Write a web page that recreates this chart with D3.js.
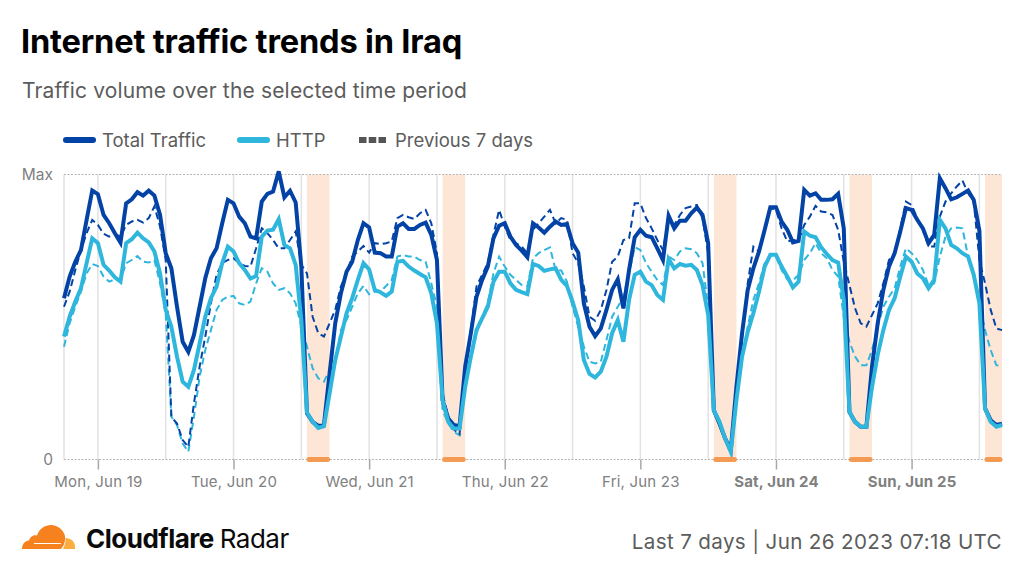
<!DOCTYPE html>
<html>
<head>
<meta charset="utf-8">
<title>Internet traffic trends in Iraq</title>
<script src="https://cdn.jsdelivr.net/npm/d3@7"></script>
<style>
  html, body { margin: 0; padding: 0; background: #fff; }
  svg { display: block; font-family: Inter, "Noto Sans", sans-serif; }
</style>
</head>
<body>
<div id="chart"></div>
<script>
// hourly samples, percent of the period's max, first sample is Jun 18 18:00
const startTime = "2023-06-18T18:00:00Z";
const endTime = "2023-06-25T16:00:00Z";

const totalTraffic = [
  56.6, 64.2, 69.4, 73.5, 84.1, 94.4, 93.1, 85.8, 82.9, 79.4, 76.1, 89.9, 91.3, 93.8, 92.6, 94.3, 92.6, 85.8, 72.4, 67.1,
  53.6, 41.3, 37.8, 43.7, 53.6, 63.6, 70.6, 74.1, 82.9, 91.1, 89.9, 85.2, 82.9, 78.2, 77.6, 90.5, 93.2, 94.0, 101.1, 92.0,
  94.3, 90.2, 67.7, 16.2, 13.2, 11.8, 12.1, 30.2, 47.8,
  58.3, 65.9, 69.4, 77.0, 82.9, 81.4, 72.6, 72.4, 71.2, 71.2, 81.7, 82.9, 80.9, 80.9, 82.3, 83.1, 78.8, 70.0, 20.8, 14.4,
  12.1, 11.7, 32.6, 44.3, 57.1, 63.0, 67.7, 77.6, 82.0, 82.9, 78.2, 75.3, 73.3, 71.0, 82.9, 81.4, 79.6, 81.7, 83.5, 82.3,
  82.6, 75.9, 72.6, 54.8, 46.6, 43.3, 46.0, 52.5, 59.5, 63.2, 53.0, 66.5, 78.0, 80.6, 78.5, 78.0, 74.1, 70.0, 85.5,
  81.1, 83.8, 83.8, 86.4, 88.4, 85.8, 75.9, 17.3, 12.6, 7.4, 3.3, 25.5, 44.3, 59.5, 67.1, 73.0, 80.6, 88.5, 88.5, 83.5,
  80.6, 76.2, 76.7, 94.6, 92.6, 93.4, 91.1, 91.1, 91.3, 93.2, 81.1, 16.7, 13.2, 11.5, 11.5, 32.6, 47.8, 59.5, 67.7, 72.4,
  80.0, 88.2, 87.6, 84.1, 81.1, 75.9, 78.8, 98.7, 95.2, 91.3, 92.0, 93.2, 94.4, 91.1, 80.3, 17.9, 13.8, 12.1, 12.6
];

const httpTraffic = [
  43.1, 50.1, 55.4, 60.1, 68.9, 77.6, 75.9, 68.3, 66.3, 63.9, 62.4, 75.9, 77.3, 79.6, 77.6, 76.2, 73.0, 65.3, 52.5, 46.6,
  36.1, 27.3, 25.5, 31.4, 40.7, 50.1, 56.6, 60.7, 68.9, 74.7, 73.0, 68.9, 66.5, 63.5, 64.4, 78.2, 80.3, 80.6, 84.3, 75.3,
  74.1, 68.3, 48.9, 16.5, 13.2, 11.1, 11.7, 23.2, 34.9,
  43.1, 51.3, 56.6, 63.0, 68.9, 66.7, 59.5, 58.7, 57.4, 58.9, 69.4, 69.7, 67.7, 66.3, 65.1, 63.9, 58.3, 47.8, 20.8, 13.2,
  10.9, 10.9, 25.5, 36.1, 45.4, 49.5, 53.6, 62.4, 65.9, 65.9, 61.8, 59.5, 58.7, 58.0, 68.6, 67.9, 66.2, 66.7, 67.1, 63.0,
  60.9, 55.4, 48.9, 34.9, 30.0, 28.8, 30.8, 36.1, 44.3, 48.9, 41.3, 56.0, 64.8, 65.9, 62.4, 61.2, 57.7, 56.0, 70.3,
  67.1, 68.6, 68.0, 68.3, 66.5, 61.2, 50.7, 17.3, 13.2, 7.4, 2.7, 20.8, 36.1, 44.8, 51.3, 58.9, 67.7, 71.8, 71.8, 67.7,
  64.2, 60.4, 62.4, 80.0, 78.5, 78.0, 74.5, 72.1, 70.0, 69.1, 56.0, 16.7, 13.2, 11.5, 11.5, 25.5, 36.7, 45.4, 52.5, 56.6,
  64.2, 71.2, 69.4, 65.3, 63.6, 60.1, 63.0, 84.1, 81.1, 75.3, 74.1, 72.4, 71.2, 64.8, 54.8, 17.9, 13.2, 11.5, 12.1
];

const prevTotal = [
  53.6, 58.9, 66.5, 73.5, 79.4, 84.1, 82.3, 79.2, 78.2, 79.2, 78.2, 82.3, 83.5, 84.1, 83.1, 84.7, 88.8, 81.7, 70.0, 15.0,
  12.6, 6.8, 4.4, 19.7, 32.6, 43.1, 54.8, 64.8, 68.9, 70.0, 70.6, 68.9, 67.9, 67.7, 74.1, 81.1, 79.4, 77.0, 74.1, 74.1,
  77.0, 80.0, 68.3, 65.3, 50.1, 44.3, 43.1, 47.8, 52.5,
  60.7, 65.3, 71.2, 73.0, 74.9, 72.6, 75.9, 75.6, 75.9, 76.5, 84.7, 85.8, 85.0, 84.4, 86.4, 87.6, 82.9, 72.4, 23.2, 15.0,
  10.5, 8.9, 29.0, 45.4, 60.7, 64.8, 68.9, 78.8, 87.6, 81.7, 77.0, 75.9, 74.7, 72.4, 80.6, 82.9, 85.2, 87.6, 82.9, 84.7,
  84.1, 72.4, 68.9, 60.7, 50.1, 48.7, 52.5, 59.5, 69.4, 71.2, 77.0, 77.6, 89.9, 89.9, 84.7, 81.1, 77.0, 73.5, 84.7,
  82.3, 85.8, 88.2, 88.8, 89.3, 84.7, 72.4, 17.3, 13.8, 6.8, 3.3, 24.4, 43.1, 61.8, 74.7, 73.0, 80.0, 88.2, 87.6, 81.1,
  76.5, 77.0, 77.0, 82.3, 85.2, 89.0, 87.0, 86.7, 85.8, 80.6, 69.4, 61.2, 53.0, 47.8, 46.6, 50.7, 54.8, 61.8, 70.0, 72.4,
  81.1, 90.5, 89.3, 84.7, 80.6, 74.7, 74.7, 85.2, 90.5, 93.4, 95.8, 97.9, 93.4, 90.5, 70.0, 61.8, 52.5, 46.0, 45.4
];

const prevHttp = [
  39.6, 47.8, 53.6, 58.9, 65.3, 68.6, 67.9, 64.2, 62.4, 63.2, 63.0, 68.9, 70.0, 71.4, 69.4, 69.1, 70.0, 61.8, 51.3, 15.0,
  12.1, 5.6, 2.7, 15.0, 29.0, 38.4, 45.4, 52.5, 56.0, 57.1, 57.4, 54.8, 54.2, 55.4, 61.8, 67.1, 65.9, 61.8, 59.5, 60.1,
  58.3, 54.8, 46.6, 39.6, 32.0, 28.5, 27.3, 31.4, 33.7,
  45.4, 48.9, 53.6, 58.3, 60.9, 58.0, 58.9, 58.9, 60.9, 63.0, 71.2, 71.8, 71.2, 71.2, 70.0, 69.4, 61.8, 53.6, 17.3, 12.6,
  9.7, 8.5, 30.2, 34.9, 44.3, 50.1, 54.8, 65.3, 71.2, 67.7, 64.8, 63.0, 61.2, 60.7, 70.6, 72.4, 73.5, 74.4, 66.5, 66.3,
  62.4, 53.6, 46.6, 39.6, 34.3, 33.7, 34.3, 41.9, 50.1, 53.6, 57.1, 65.3, 74.5, 73.5, 68.9, 65.9, 63.0, 61.2, 71.2,
  70.0, 73.0, 74.1, 73.8, 72.4, 68.9, 53.6, 17.3, 13.8, 6.8, 2.1, 20.8, 34.9, 46.6, 56.0, 61.8, 68.9, 71.8, 71.2, 66.5,
  63.2, 62.8, 64.8, 70.0, 72.4, 75.9, 72.4, 70.6, 66.5, 64.2, 50.1, 41.3, 36.1, 33.1, 33.1, 38.4, 46.6, 53.6, 57.1, 60.1,
  67.7, 74.1, 72.4, 70.0, 66.5, 61.2, 61.8, 71.2, 78.2, 81.1, 81.4, 81.1, 71.2, 65.3, 54.8, 45.4, 38.4, 33.1, 32.8
];

const dayTicks = ["2023-06-19", "2023-06-20", "2023-06-21", "2023-06-22", "2023-06-23", "2023-06-24", "2023-06-25"];
const boldDays = ["2023-06-24", "2023-06-25"];
const outages = [
  ["2023-06-20T13:00:00Z", "2023-06-20T17:00:00Z"],
  ["2023-06-21T13:00:00Z", "2023-06-21T17:00:00Z"],
  ["2023-06-23T13:00:00Z", "2023-06-23T17:00:00Z"],
  ["2023-06-24T13:00:00Z", "2023-06-24T17:00:00Z"],
  ["2023-06-25T13:00:00Z", "2023-06-25T16:00:00Z"]
];
const legendLabels = ["Total Traffic", "HTTP", "Previous 7 days"];

const WIDTH = 1024, HEIGHT = 576;
const DARK_BLUE = "#0343a6", LIGHT_BLUE = "#2fb6dd";

const svg = d3.select("#chart").append("svg")
  .attr("width", WIDTH)
  .attr("height", HEIGHT);

const x = d3.scaleUtc()
  .domain([new Date(startTime), new Date(endTime)])
  .range([64, 1002]);
const y = d3.scaleLinear().domain([0, 100]).range([459.5, 174.5]);

const hourMs = 3600 * 1000;
const timeAt = i => new Date(+new Date(startTime) + i * hourMs);

// title block
svg.append("text").attr("x", 21).attr("y", 53)
  .attr("font-size", 32.6).attr("font-weight", 700).attr("fill", "#000")
  .attr("letter-spacing", -0.17)
  .text("Internet traffic trends in Iraq");
svg.append("text").attr("x", 22).attr("y", 98)
  .attr("font-size", 21).attr("fill", "#5c5c5c").attr("letter-spacing", 0.17)
  .text("Traffic volume over the selected time period");

// legend
const legendX = [66, 240, 359];
const legend = svg.append("g").selectAll("g").data(legendLabels).join("g")
  .attr("transform", (d, i) => `translate(${legendX[i]},140)`);
legend.append("line")
  .attr("x2", 27)
  .attr("stroke", (d, i) => [DARK_BLUE, LIGHT_BLUE, "#555"][i])
  .attr("stroke-width", 6)
  .attr("stroke-linecap", (d, i) => i < 2 ? "round" : "butt")
  .attr("stroke-dasharray", (d, i) => i < 2 ? null : "7.5 2.25");
legend.append("text")
  .attr("x", 36).attr("y", 6.5)
  .attr("font-size", 18.5).attr("fill", "#5c5c5c")
  .text(d => d);

// grid, every 12 hours
const gridHours = d3.utcHour.range(new Date("2023-06-18T12:00:00Z"), new Date(endTime), 12)
  .filter(d => x(d) >= 64);
svg.append("g").selectAll("line").data(gridHours).join("line")
  .attr("x1", d => x(d)).attr("x2", d => x(d))
  .attr("y1", y(100)).attr("y2", y(0))
  .attr("stroke", "#e2e2e2").attr("stroke-width", 1.5);
svg.append("line")
  .attr("x1", 64).attr("x2", 64).attr("y1", y(100)).attr("y2", y(0))
  .attr("stroke", "#e2e2e2").attr("stroke-width", 1.5);

// outage windows
const bands = svg.append("g").selectAll("g").data(outages).join("g");
bands.append("rect")
  .attr("x", d => x(new Date(d[0])))
  .attr("width", d => x(new Date(d[1])) - x(new Date(d[0])))
  .attr("y", y(100)).attr("height", y(0) - y(100))
  .attr("fill", "#fde6d5");

// y axis + dotted bounds
const yAxis = d3.axisLeft(y).tickValues([0, 100]).tickSize(0).tickPadding(11)
  .tickFormat(d => d === 100 ? "Max" : "0");
const yGroup = svg.append("g").attr("transform", "translate(64,0)").call(yAxis);
yGroup.select(".domain").remove();
yGroup.selectAll("text").attr("font-size", 15.5).attr("fill", "#808080").attr("font-family", "Inter");
svg.append("g").selectAll("line").data([0, 100]).join("line")
  .attr("x1", 64).attr("x2", 1002)
  .attr("y1", d => y(d)).attr("y2", d => y(d))
  .attr("stroke", "#b5b5b5").attr("stroke-width", 1).attr("stroke-dasharray", "2 1.5");

// x axis
const xAxis = d3.axisBottom(x)
  .tickValues(dayTicks.map(d => new Date(d + "T00:00:00Z")))
  .tickSize(10).tickPadding(7)
  .tickFormat(d3.utcFormat("%a, %b %d"));
const xGroup = svg.append("g").attr("transform", "translate(0,459.5)").call(xAxis);
xGroup.select(".domain").remove();
xGroup.selectAll("line").attr("stroke", "#a8a8a8").attr("stroke-width", 1.5);
xGroup.selectAll("text")
  .attr("font-size", 15).attr("letter-spacing", 0.2).attr("font-family", "Inter").attr("fill", "#808080")
  .attr("font-weight", d => boldDays.includes(d3.utcFormat("%Y-%m-%d")(d)) ? 700 : 400);

// series lines
const line = d3.line().x((d, i) => x(timeAt(i))).y(d => y(d));
const seriesDefs = [
  { values: prevHttp, color: LIGHT_BLUE, width: 2, dash: "7 4" },
  { values: prevTotal, color: DARK_BLUE, width: 2, dash: "7 4" },
  { values: totalTraffic, color: DARK_BLUE, width: 4, dash: null },
  { values: httpTraffic, color: LIGHT_BLUE, width: 4, dash: null }
];
svg.append("g").selectAll("path").data(seriesDefs).join("path")
  .attr("d", d => line(d.values))
  .attr("fill", "none")
  .attr("stroke", d => d.color)
  .attr("stroke-width", d => d.width)
  .attr("stroke-dasharray", d => d.dash)
  .attr("stroke-linejoin", "miter");

// orange markers on the baseline
svg.append("g").selectAll("line").data(outages).join("line")
  .attr("x1", d => x(new Date(d[0])) + 2)
  .attr("x2", d => x(new Date(d[1])) - 2)
  .attr("y1", y(0)).attr("y2", y(0))
  .attr("stroke", "#f59a53").attr("stroke-width", 5).attr("stroke-linecap", "round");

// footer logo
const logo = svg.append("g").attr("transform", "translate(22,525)");
logo.append("path")
  .attr("fill", "#f6821f")
  .attr("d", "M0 24 C0 19 3 16 7 15.5 C8 11.5 11.5 9.5 15 10.5 C17 4 23 0 29 0 C36 0 41.5 5 43 11 C43.5 15 42.5 18 41.5 20.5 L39 24 Z");
logo.append("path")
  .attr("fill", "#fbad41")
  .attr("d", "M41 24 C42.5 21 44 16.5 43.5 13 C49 13 53 17 53 21.5 L53 24 Z");
logo.append("rect").attr("x", 12).attr("y", 18).attr("width", 27).attr("height", 1).attr("fill", "#fff");

svg.append("text").attr("x", 86).attr("y", 548)
  .attr("font-size", 26).attr("fill", "#0a0a0a").attr("letter-spacing", -0.5)
  .call(t => t.append("tspan").attr("font-weight", 700).text("Cloudflare"))
  .call(t => t.append("tspan").attr("font-weight", 400).attr("dx", 6).text("Radar"));

svg.append("text").attr("x", 1002).attr("y", 549)
  .attr("text-anchor", "end")
  .attr("font-size", 20.6).attr("fill", "#5c5c5c").attr("letter-spacing", 0.35)
  .text("Last 7 days | Jun 26 2023 07:18 UTC");
</script>
</body>
</html>
